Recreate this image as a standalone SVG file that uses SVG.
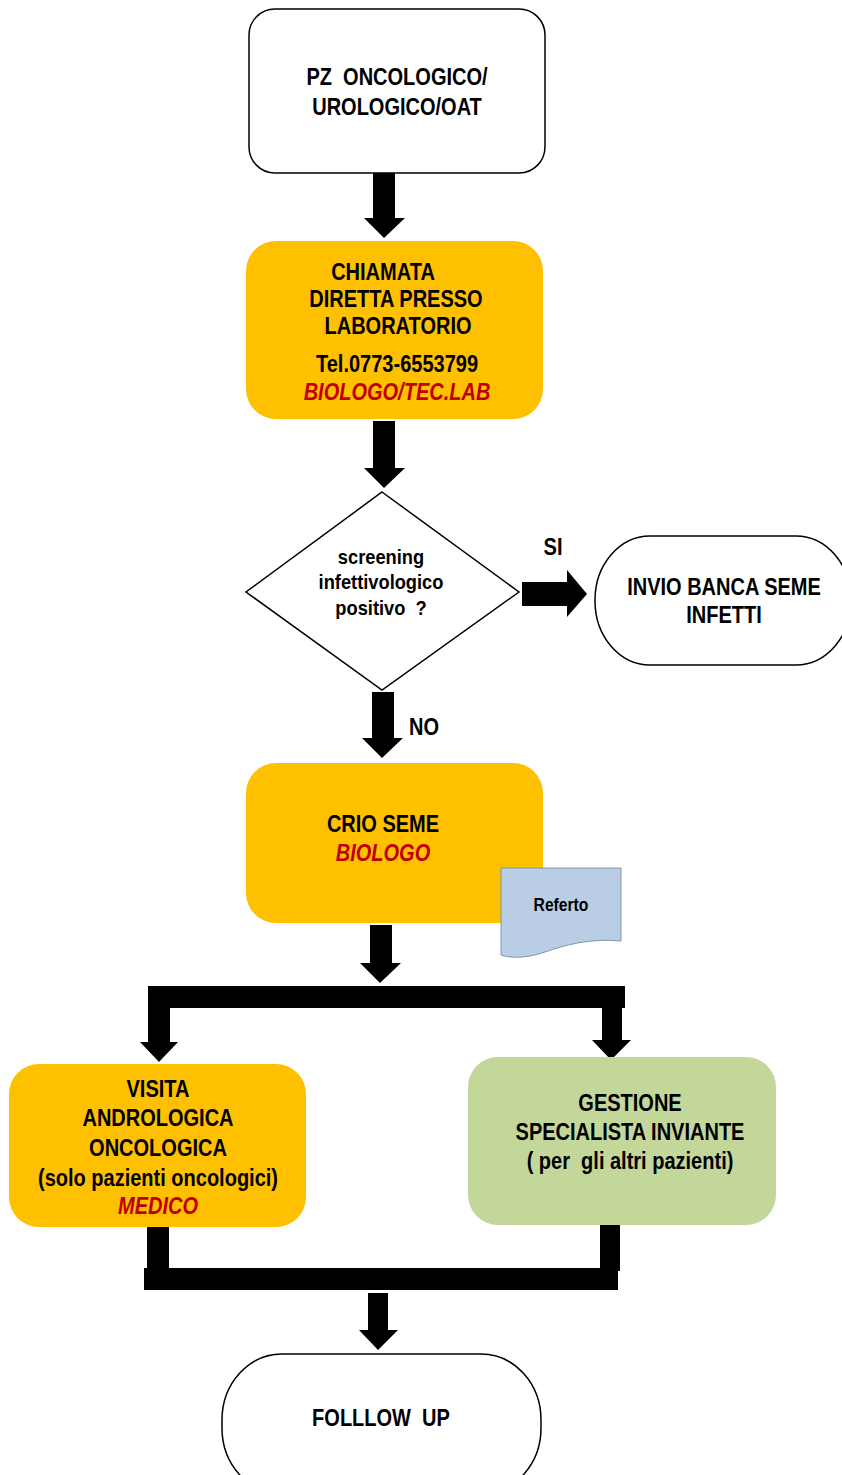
<svg xmlns="http://www.w3.org/2000/svg" width="842" height="1475" viewBox="0 0 842 1475">
<style>
.t{font-family:"Liberation Sans",Arial,sans-serif;font-weight:bold;font-size:23px;fill:#000;text-anchor:middle;white-space:pre}
.s{font-size:21px}
.r{fill:#C00000;font-style:italic}
.w{fill:#fff;stroke:#000;stroke-width:1.5}
.o{fill:#FFC000}
.g{fill:#C4D79B}
.a{fill:#000}
</style>
<rect width="842" height="1475" fill="#fff"/>
<g id="connectors">
<polygon class="a" points="373,173 395,173 395,218 405,218 384,238 364,218 373,218"/>
<polygon class="a" points="373,421 395,421 395,468 405,468 384,488 364,468 373,468"/>
<polygon class="a" points="522,582 567,582 567,570 587,594 567,617 567,606 522,606"/>
<polygon class="a" points="372,692 394,692 394,738 403,738 382,758 362,738 372,738"/>
<polygon class="a" points="370,925 392,925 392,963 401,963 380,983 360,963 370,963"/>
<rect class="a" x="148" y="986" width="477" height="22"/>
<polygon class="a" points="148,1008 170,1008 170,1042 178,1042 159,1062 140,1042 148,1042"/>
<polygon class="a" points="602,1008 622,1008 622,1040 631,1040 611,1060 592,1040 602,1040"/>
<rect class="a" x="147" y="1222" width="22" height="68"/>
<rect class="a" x="600" y="1225" width="20" height="46"/>
<rect class="a" x="144" y="1268" width="474" height="22"/>
<polygon class="a" points="368,1293 388,1293 388,1330 398,1330 378,1350 359,1330 368,1330"/>
<text class="t" transform="translate(553,555) scale(0.87,1)">SI</text>
<text class="t" transform="translate(424,735) scale(0.87,1)">NO</text>
</g>
<g id="start">
<rect class="w" x="249" y="9" width="296" height="164" rx="26"/>
<text class="t" transform="translate(397,85) scale(0.87,1)">PZ  ONCOLOGICO/</text>
<text class="t" transform="translate(397,115) scale(0.87,1)">UROLOGICO/OAT</text>
</g>
<g id="chiamata">
<rect class="o" x="246" y="241" width="297" height="178" rx="30"/>
<text class="t" transform="translate(383,280) scale(0.87,1)">CHIAMATA</text>
<text class="t" transform="translate(396,307) scale(0.87,1)">DIRETTA PRESSO</text>
<text class="t" transform="translate(398,334) scale(0.87,1)">LABORATORIO</text>
<text class="t" transform="translate(397,372) scale(0.87,1)">Tel.0773-6553799</text>
<text class="t r" transform="translate(397,400) scale(0.87,1)">BIOLOGO/TEC.LAB</text>
</g>
<g id="screening">
<polygon class="w" points="382,492 519,592 382,690 246,592"/>
<text class="t s" transform="translate(381,564) scale(0.87,1)">screening</text>
<text class="t s" transform="translate(381,589) scale(0.87,1)">infettivologico</text>
<text class="t s" transform="translate(381,615) scale(0.87,1)">positivo  ?</text>
</g>
<g id="invio">
<rect class="w" x="595" y="536" width="256" height="129" rx="55" ry="64"/>
<text class="t" transform="translate(724,595) scale(0.87,1)">INVIO BANCA SEME</text>
<text class="t" transform="translate(724,623) scale(0.87,1)">INFETTI</text>
</g>
<g id="crio">
<rect class="o" x="246" y="763" width="297" height="160" rx="30"/>
<text class="t" transform="translate(383,832) scale(0.87,1)">CRIO SEME</text>
<text class="t r" transform="translate(383,861) scale(0.87,1)">BIOLOGO</text>
</g>
<g id="referto">
<path d="M501,868 H621 V941 C590,938 565,945 545,952 C525,959 510,958 501,955 Z" fill="#B9CDE5" stroke="#8595A8" stroke-width="1"/>
<text class="t" transform="translate(561,911) scale(0.87,1)" style="font-size:18px">Referto</text>
</g>
<g id="visita">
<rect class="o" x="9" y="1064" width="297" height="163" rx="30"/>
<text class="t" transform="translate(158,1097) scale(0.87,1)">VISITA</text>
<text class="t" transform="translate(158,1126) scale(0.87,1)">ANDROLOGICA</text>
<text class="t" transform="translate(158,1156) scale(0.87,1)">ONCOLOGICA</text>
<text class="t" transform="translate(158,1186) scale(0.87,1)">(solo pazienti oncologici)</text>
<text class="t r" transform="translate(158,1214) scale(0.87,1)">MEDICO</text>
</g>
<g id="gestione">
<rect class="g" x="468" y="1057" width="308" height="168" rx="30"/>
<text class="t" transform="translate(630,1111) scale(0.87,1)">GESTIONE</text>
<text class="t" transform="translate(630,1140) scale(0.87,1)">SPECIALISTA INVIANTE</text>
<text class="t" transform="translate(630,1169) scale(0.87,1)">( per  gli altri pazienti)</text>
</g>
<g id="followup">
<rect class="w" x="222" y="1354" width="319" height="140" rx="60" ry="66"/>
<text class="t" transform="translate(381,1426) scale(0.87,1)">FOLLLOW  UP</text>
</g>
</svg>
